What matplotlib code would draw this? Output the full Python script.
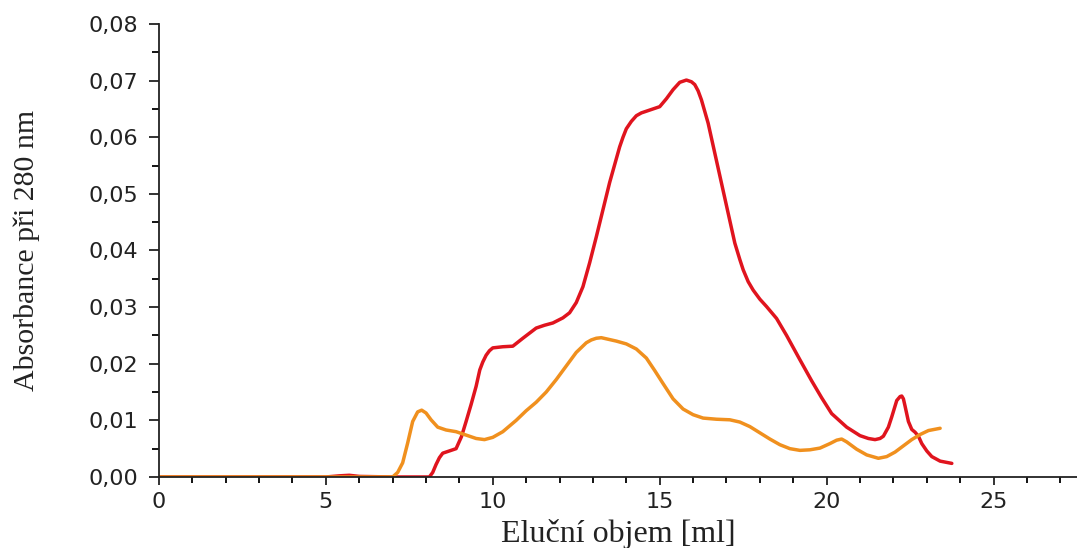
import matplotlib.pyplot as plt
from matplotlib.ticker import MultipleLocator, FuncFormatter

# eluční objem [ml] a absorbance
objem_cerveny = [0.0, 5.0, 5.4, 5.7, 6.0, 7.0, 8.1, 8.2, 8.3, 8.4, 8.5, 8.7, 8.9, 9.06, 9.2,
                 9.35, 9.5, 9.61, 9.7, 9.8, 9.9, 10.0, 10.3, 10.6, 10.9, 11.3, 11.55, 11.8,
                 12.1, 12.3, 12.5, 12.7, 12.9, 13.1, 13.3, 13.5, 13.8, 13.9, 14.0, 14.15,
                 14.3, 14.45, 14.6, 14.8, 15.0, 15.2, 15.4, 15.6, 15.8, 15.95, 16.05,
                 16.15, 16.25, 16.45, 16.65, 16.85, 17.05, 17.25, 17.4, 17.5, 17.65, 17.8,
                 18.0, 18.2, 18.5, 18.8, 19.2, 19.55, 19.85, 20.15, 20.6, 21.0, 21.25,
                 21.45, 21.6, 21.7, 21.85, 21.95, 22.1, 22.2, 22.25, 22.3, 22.35, 22.45,
                 22.55, 22.65, 22.75, 22.85, 23.0, 23.15, 23.4, 23.75]
abs_cerveny = [0.0, 0.0, 0.0002, 0.0003, 0.0001, 0.0, 0.0, 0.0008, 0.0022, 0.0034, 0.0042,
               0.0046, 0.0050, 0.0071, 0.0098, 0.0128, 0.0160, 0.0189, 0.0203, 0.0215,
               0.0223, 0.0228, 0.0230, 0.0231, 0.0245, 0.0263, 0.0268, 0.0272, 0.0281,
               0.0290, 0.0308, 0.0336, 0.0378, 0.0424, 0.0472, 0.0520, 0.0583, 0.0600,
               0.0615, 0.0628, 0.0638, 0.0643, 0.0646, 0.0650, 0.0654, 0.0668, 0.0684,
               0.0697, 0.0701, 0.0698, 0.0693, 0.0682, 0.0666, 0.0625, 0.0572, 0.0519,
               0.0466, 0.0413, 0.0384, 0.0366, 0.0345, 0.0330, 0.0314, 0.0301, 0.0280,
               0.0250, 0.0207, 0.0170, 0.0140, 0.0112, 0.0088, 0.0073, 0.0068, 0.0066,
               0.0068, 0.0072, 0.0088, 0.0106, 0.0135, 0.0142, 0.0143, 0.0138, 0.0125,
               0.0098, 0.0084, 0.0079, 0.0072, 0.0059, 0.0046, 0.0036, 0.0028, 0.0024]

objem_oranzovy = [0.0, 7.0, 7.15, 7.3, 7.45, 7.6, 7.75, 7.87, 8.0, 8.15, 8.35, 8.6, 8.9,
                  9.2, 9.5, 9.75, 10.0, 10.3, 10.7, 11.0, 11.3, 11.6, 11.9, 12.2, 12.5,
                  12.8, 12.95, 13.1, 13.25, 13.4, 13.7, 14.0, 14.3, 14.6, 14.85, 15.1,
                  15.4, 15.7, 16.0, 16.3, 16.7, 17.1, 17.4, 17.7, 18.0, 18.3, 18.6, 18.9,
                  19.2, 19.5, 19.8, 20.1, 20.3, 20.45, 20.6, 20.9, 21.2, 21.55, 21.8,
                  22.05, 22.3, 22.55, 22.8, 23.05, 23.4]
abs_oranzovy = [0.0, 0.0, 0.0008, 0.0025, 0.0060, 0.0098, 0.0115, 0.0118, 0.0113, 0.0101,
                0.0088, 0.0083, 0.0080, 0.0074, 0.0068, 0.0066, 0.0070, 0.0080, 0.0100,
                0.0117, 0.0132, 0.0150, 0.0172, 0.0196, 0.0220, 0.0237, 0.0242, 0.0245,
                0.0246, 0.0244, 0.0240, 0.0235, 0.0226, 0.0210, 0.0188, 0.0165, 0.0138,
                0.0120, 0.0110, 0.0104, 0.0102, 0.0101, 0.0097, 0.0089, 0.0078, 0.0067,
                0.0057, 0.0050, 0.0047, 0.0048, 0.0051, 0.0059, 0.0065, 0.0067, 0.0062,
                0.0049, 0.0039, 0.0033, 0.0036, 0.0044, 0.0055, 0.0066, 0.0075, 0.0082,
                0.0086]

fig = plt.figure(figsize=(10.77, 5.48), dpi=100)
ax = fig.add_axes([0.1476, 0.1296, 0.8524, 0.8266])

ax.plot(objem_cerveny, abs_cerveny, color="#e0141e", lw=2.5,
        solid_joinstyle="round", solid_capstyle="round")
ax.plot(objem_oranzovy, abs_oranzovy, color="#f0901e", lw=2.5,
        solid_joinstyle="round", solid_capstyle="round")

ax.set_xlim(0, 27.5)
ax.set_ylim(0, 0.08)
ax.xaxis.set_major_locator(MultipleLocator(5))
ax.xaxis.set_minor_locator(MultipleLocator(1))
ax.yaxis.set_major_locator(MultipleLocator(0.01))
ax.yaxis.set_minor_locator(MultipleLocator(0.005))
ax.yaxis.set_major_formatter(FuncFormatter(lambda v, p: f"{v:.2f}".replace(".", ",")))

for s in ["top", "right"]:
    ax.spines[s].set_visible(False)
for s in ["left", "bottom"]:
    ax.spines[s].set_linewidth(1.3)
    ax.spines[s].set_color("#222222")

ax.tick_params(axis="x", which="major", direction="out", length=6, width=1.3, pad=5,
               labelsize=16, colors="#222222")
ax.tick_params(axis="x", which="minor", direction="out", length=4, width=1.3)
ax.tick_params(axis="y", which="major", direction="out", length=7, width=1.3, pad=8,
               labelsize=16, colors="#222222")
ax.tick_params(axis="y", which="minor", direction="out", length=5, width=1.3)
for lab in ax.get_xticklabels() + ax.get_yticklabels():
    lab.set_family("DejaVu Sans")

ax.set_xlabel("Eluční objem [ml]", family="Liberation Serif", fontsize=23,
              color="#222222", va="baseline")
ax.set_ylabel("Absorbance při 280 nm", family="Liberation Serif", fontsize=21.5,
              color="#222222")
ax.xaxis.set_label_coords(0.5, -0.1425)
ax.yaxis.set_label_coords(-0.13, 0.5)

fig.savefig("out.png", dpi=100)
plt.close()
